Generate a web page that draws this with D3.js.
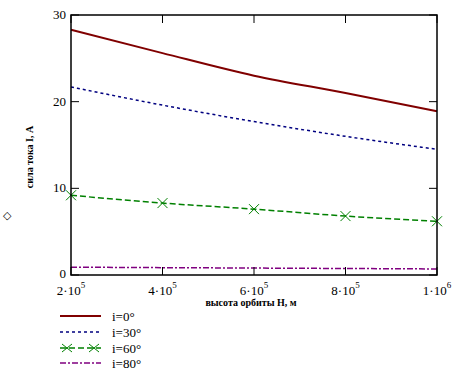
<!DOCTYPE html>
<html>
<head>
<meta charset="utf-8">
<script src="https://cdn.jsdelivr.net/npm/d3@7"></script>
<style>
  body { margin: 0; background: #fff; }
  text { font-family: "Liberation Serif", "Times New Roman", serif; }
</style>
</head>
<body>
<svg id="chart" width="455" height="371"></svg>
<script>
// Data
const heights = [2e5, 4e5, 6e5, 8e5, 1e6];
const i0 = [28.3, 25.6, 23.0, 21.0, 18.9];
const i30 = [21.7, 19.6, 17.7, 16.0, 14.5];
const i60 = [9.2, 8.3, 7.6, 6.8, 6.2];
const i80 = [0.9, 0.85, 0.8, 0.75, 0.7];
const xTicks = [2e5, 4e5, 6e5, 8e5, 1e6];
const xTickMant = ["2", "4", "6", "8", "1"];
const xTickExp = ["5", "5", "5", "5", "6"];
const yTicks = [0, 10, 20, 30];
const legendLabels = ["i=0°", "i=30°", "i=60°", "i=80°"];

const svg = d3.select('#chart');
const plotLeft = 71, plotRight = 437, plotTop = 15, plotBottom = 275;

const x = d3.scaleLinear().domain([2e5, 1e6]).range([plotLeft, plotRight]);
const y = d3.scaleLinear().domain([0, 30]).range([plotBottom, plotTop]);

const series = [
    { name: legendLabels[0], values: i0, color: "#800000", dash: null, width: 2 },
    { name: legendLabels[1], values: i30, color: "#000080", dash: "3,3", width: 1.5 },
    { name: legendLabels[2], values: i60, color: "#008000", dash: "6,3", width: 1.5, marker: true },
    { name: legendLabels[3], values: i80, color: "#800080", dash: "6,2,2,2", width: 1.5 }
];

// Lines
const line = d3.line()
    .x((d, i) => x(heights[i]))
    .y(d => y(d))
    .curve(d3.curveMonotoneX);

series.forEach(s => {
    svg.append("path")
        .attr("d", line(s.values))
        .attr("fill", "none")
        .attr("stroke", s.color)
        .attr("stroke-width", s.width)
        .attr("stroke-dasharray", s.dash);
    if (s.marker) {
        s.values.forEach((v, i) => {
            const cx = x(heights[i]), cy = y(v);
            svg.append("path")
                .attr("d", `M${cx - 5},${cy - 5}L${cx + 5},${cy + 5}M${cx - 5},${cy + 5}L${cx + 5},${cy - 5}`)
                .attr("stroke", s.color)
                .attr("stroke-width", 1);
        });
    }
});

// Frame
svg.append("rect")
    .attr("x", plotLeft).attr("y", plotTop)
    .attr("width", plotRight - plotLeft).attr("height", plotBottom - plotTop)
    .attr("fill", "none").attr("stroke", "#000").attr("stroke-width", 1.5);

// Inner ticks
const tickLen = 8;
xTicks.forEach(t => {
    svg.append("line").attr("x1", x(t)).attr("x2", x(t))
        .attr("y1", plotBottom).attr("y2", plotBottom - tickLen).attr("stroke", "#000");
    svg.append("line").attr("x1", x(t)).attr("x2", x(t))
        .attr("y1", plotTop).attr("y2", plotTop + tickLen).attr("stroke", "#000");
});
yTicks.forEach(t => {
    svg.append("line").attr("x1", plotLeft).attr("x2", plotLeft + tickLen)
        .attr("y1", y(t)).attr("y2", y(t)).attr("stroke", "#000");
    svg.append("line").attr("x1", plotRight).attr("x2", plotRight - tickLen)
        .attr("y1", y(t)).attr("y2", y(t)).attr("stroke", "#000");
});

// Y tick labels
yTicks.forEach(t => {
    svg.append("text")
        .attr("x", plotLeft - 5).attr("y", y(t) + (t === 0 ? 3 : 4))
        .attr("text-anchor", "end")
        .attr("font-size", 13)
        .text(t);
});

// X tick labels like 2·10^5
xTicks.forEach((t, i) => {
    const g = svg.append("text")
        .attr("x", x(t)).attr("y", plotBottom + 20)
        .attr("text-anchor", "middle")
        .attr("font-size", 13);
    g.append("tspan").text(xTickMant[i] + "·10");
    g.append("tspan").attr("dy", -7).attr("font-size", 9).text(xTickExp[i]);
});

// Axis titles
svg.append("text")
    .attr("transform", `translate(33,157) rotate(-90)`)
    .attr("text-anchor", "middle")
    .attr("font-size", 10)
    .attr("font-weight", "bold")
    .text("сила тока I, А");

svg.append("text")
    .attr("x", 251).attr("y", 306)
    .attr("text-anchor", "middle")
    .attr("font-size", 10)
    .attr("font-weight", "bold")
    .text("высота орбиты Н, м");

svg.append("text")
    .attr("x", 3).attr("y", 219)
    .attr("font-size", 11)
    .text("◇");

// Legend
const legendY = [316, 332, 348, 363];
series.forEach((s, i) => {
    const ly = legendY[i];
    svg.append("line")
        .attr("x1", 60).attr("x2", 101)
        .attr("y1", ly).attr("y2", ly)
        .attr("stroke", s.color)
        .attr("stroke-width", s.width)
        .attr("stroke-dasharray", s.dash);
    if (s.marker) {
        [67, 94].forEach(cx => {
            svg.append("path")
                .attr("d", `M${cx - 5},${ly - 4}L${cx + 5},${ly + 4}M${cx - 5},${ly + 4}L${cx + 5},${ly - 4}`)
                .attr("stroke", s.color);
        });
    }
    svg.append("text")
        .attr("x", 112).attr("y", ly + 5)
        .attr("font-size", 13)
        .text(s.name);
});
</script>
</body>
</html>
